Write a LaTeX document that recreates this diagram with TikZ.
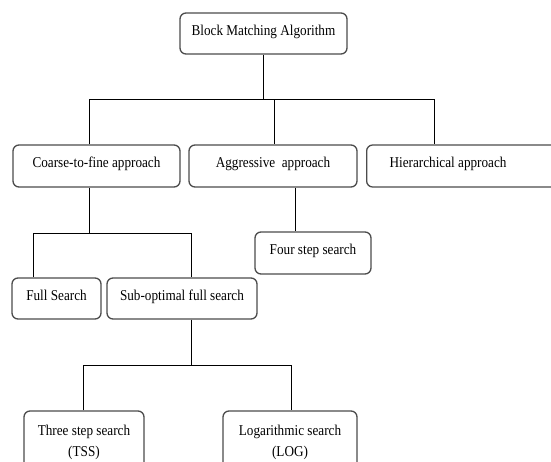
\documentclass[tikz,border=0pt]{standalone}
\usepackage{fontspec}
\setmainfont{Liberation Serif}[FakeStretch=0.88]
\begin{document}
\begin{tikzpicture}[x=1pt,y=-1pt,
  box/.style={draw=black!70, line width=1.3pt, rounded corners=6pt, inner sep=0pt,
    font=\fontsize{15}{21}\selectfont},
  one/.style={box, text height=10pt, text depth=6.5pt},
  conn/.style={draw=black, line width=0.9pt}]
\useasboundingbox (0,0) rectangle (551,461);
\clip (0,0) rectangle (551,461);
% level 0
\node[one, minimum width=167pt, minimum height=41pt] (bma) at (263.5,33.5) {Block Matching Algorithm};
% level 1
\node[one, minimum width=167pt, minimum height=42pt] (coarse) at (96.5,166) {Coarse-to-fine approach};
\node[one, minimum width=168pt, minimum height=42pt] (agg) at (273,166) {Aggressive\ \ approach};
\node[one, anchor=west, minimum height=42pt, inner xsep=23pt] (hier) at (366,166) {\makebox[175pt][l]{Hierarchical approach}};
% level 2
\node[one, minimum width=116pt, minimum height=42pt] (four) at (313,253) {Four step search\hspace{4pt}};
\node[one, minimum width=89pt, minimum height=41pt] (full) at (56.5,298.5) {Full Search\hspace{5pt}};
\node[one, minimum width=150pt, minimum height=41pt] (sub) at (182,298.5) {Sub-optimal full search};
% level 3
\node[box, minimum width=120pt, minimum height=62pt, align=center] (tss) at (84,442) {Three step search\\(TSS)};
\node[box, minimum width=134pt, minimum height=62pt, align=center] (log) at (290,442) {Logarithmic search\\(LOG)};
% connectors
\coordinate (j0) at (263,99);
\coordinate (j0l) at (89,99);
\coordinate (j0m) at (274,99);
\coordinate (j0r) at (434,99);
\draw[conn] (bma.south -| j0) -- (j0);
\draw[conn] (coarse.north -| j0l) -- (j0l) -- (j0r) -- (hier.north -| j0r);
\draw[conn] (j0m) -- (agg.north -| j0m);
\coordinate (j1) at (89,233);
\coordinate (j1l) at (33,233);
\coordinate (j1r) at (191,233);
\draw[conn] (coarse.south -| j1) -- (j1);
\draw[conn] (full.north -| j1l) -- (j1l) -- (j1r) -- (sub.north -| j1r);
\coordinate (j2) at (295,200);
\draw[conn] (agg.south -| j2) -- (four.north -| j2);
\coordinate (j3) at (191,365);
\coordinate (j3l) at (83,365);
\coordinate (j3r) at (291,365);
\draw[conn] (sub.south -| j3) -- (j3);
\draw[conn] (tss.north -| j3l) -- (j3l) -- (j3r) -- (log.north -| j3r);
\end{tikzpicture}
\end{document}
